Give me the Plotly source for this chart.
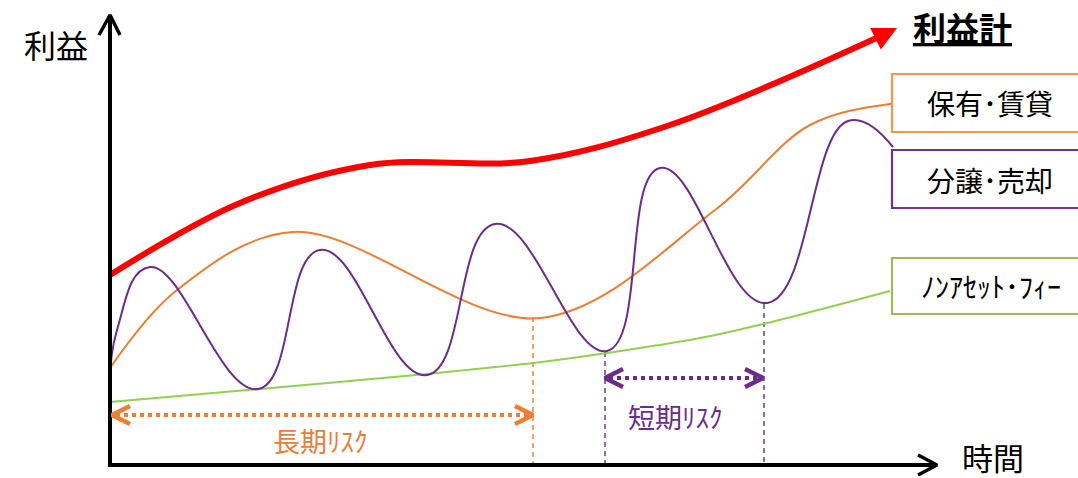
import plotly.graph_objects as go

# ---------------- data (time, profit) ----------------
# 利益計 (total profit)
total_t = [0, 130, 260, 420, 560, 773]
total_p = [190, 262, 300, 304, 340, 430]
total_tip = (787, 437)

# 保有・賃貸 (hold / lease); last point sits under its label box
hold_t = [0, 67, 183, 431, 605, 700, 780, 830]
hold_p = [97, 175, 233, 147, 255, 340, 361, 362]

# 分譲・売却 (sale): start, then alternating peaks / troughs, end
sale_t = [0, 7, 40, 148, 210, 317, 385, 497, 550, 657, 738, 783]
sale_p = [68, 135, 198, 76, 215, 90, 241, 114, 297, 162, 344, 318]

# ノンアセット・フィー (non-asset fee)
fee_t = [0, 150, 317, 423, 497, 590, 653, 780]
fee_p = [63, 76, 91, 102, 112, 127, 141, 174]

# risk spans
long_risk = (2, 423)
short_risk = (495, 653)
long_risk_level = 50
short_risk_level = 87
guide_t = [423, 495, 654]
guide_top = [148, 113, 161]
guide_color = ["#ED7D31", "#6B2C8A", "#6B2C8A"]

labels = {
    "y": "利益",
    "x": "時間",
    "total": "<b><u>利益計</u></b>",
    "hold": "保有･賃貸",
    "sale": "分譲･売却",
    "fee": "ﾉﾝｱｾｯﾄ･ﾌｨｰ",
    "long": "長期ﾘｽｸ",
    "short": "短期ﾘｽｸ",
}

# ---------------- styling ----------------
W, H = 1078, 478
FONT = "Noto Sans CJK JP"
RED = "#FF0000"
ORANGE = "#ED7D31"
PURPLE = "#6B2C8A"
GREEN = "#92D050"
X_AXIS_END = 827
Y_AXIS_END = 450

fig = go.Figure()


def line(t, p, color, width, shape="linear", dash="solid", smoothing=1.0):
    fig.add_trace(go.Scatter(
        x=t, y=p, mode="lines",
        line=dict(color=color, width=width, shape=shape, dash=dash,
                  smoothing=smoothing if shape == "spline" else None),
        hoverinfo="skip", showlegend=False))


# guide dashed verticals
for gt, gp, gc in zip(guide_t, guide_top, guide_color):
    line([gt, gt], [gp, 0], gc, 1.4, dash="5px,4px")

# curves
line(fee_t, fee_p, GREEN, 2, "spline")
line(hold_t, hold_p, ORANGE, 2, "spline")
line(sale_t, sale_p, PURPLE, 2, "spline", smoothing=1.3)
line(total_t, total_p, RED, 6, "spline")

# red arrow head
fig.add_annotation(x=total_tip[0], y=total_tip[1], ax=total_t[-1] - 8, ay=total_p[-1] - 4,
                   xref="x", yref="y", axref="x", ayref="y", text="",
                   showarrow=True, arrowhead=2, arrowsize=0.8, arrowwidth=6,
                   arrowcolor=RED, standoff=0)

# axes with open arrowheads
line([0, 0], [-2, Y_AXIS_END], "black", 4)
line([0, X_AXIS_END], [0, 0], "black", 4)
line([-11, 0, 10], [Y_AXIS_END - 20, Y_AXIS_END, Y_AXIS_END - 20], "black", 3.5)
line([X_AXIS_END - 19, X_AXIS_END, X_AXIS_END - 19], [10, 0, -10], "black", 3.5)


def double_arrow(span, level, color):
    a, b = span
    line([a + 4, b - 4], [level, level], color, 4, dash="4px,4px")
    line([a + 18, a, a + 18], [level + 9, level, level - 9], color, 4.5)
    line([b - 18, b, b - 18], [level + 9, level, level - 9], color, 4.5)


double_arrow(long_risk, long_risk_level, ORANGE)
double_arrow(short_risk, short_risk_level, PURPLE)


def px(x):
    return x / W


def py(y):
    return 1 - y / H


def text(x, y, s, size, color="black"):
    fig.add_annotation(x=px(x), y=py(y), xref="paper", yref="paper", text=s,
                       showarrow=False, xanchor="center", yanchor="middle",
                       font=dict(family=FONT, size=size, color=color))


# legend boxes (drawn above the curves, white-filled)
boxes = [(74, 132, "#F79646"), (150, 208, "#7030A0"), (258, 314, "#9BBB59")]
for y0, y1, c in boxes:
    fig.add_shape(type="rect", xref="paper", yref="paper", layer="above",
                  x0=px(892), x1=px(1090), y0=py(y1), y1=py(y0),
                  line=dict(color=c, width=2.2), fillcolor="white")

text(56, 44, labels["y"], 32)
text(993, 456, labels["x"], 31)
text(962, 27, labels["total"], 33)
text(990, 103, labels["hold"], 28)
text(990, 180, labels["sale"], 28)
text(991, 286, labels["fee"], 28)
text(320, 440, labels["long"], 27, ORANGE)
text(675, 416, labels["short"], 27, PURPLE)

fig.update_layout(
    width=W, height=H,
    margin=dict(l=0, r=0, t=0, b=0),
    paper_bgcolor="white", plot_bgcolor="white",
    xaxis=dict(range=[-110, W - 110], visible=False, fixedrange=True),
    yaxis=dict(range=[465 - H, 465], visible=False, fixedrange=True),
    showlegend=False,
)

fig.write_html("out.html",
               config={"displayModeBar": False},
               post_script="document.body.style.margin='0';document.body.style.overflow='hidden';")
